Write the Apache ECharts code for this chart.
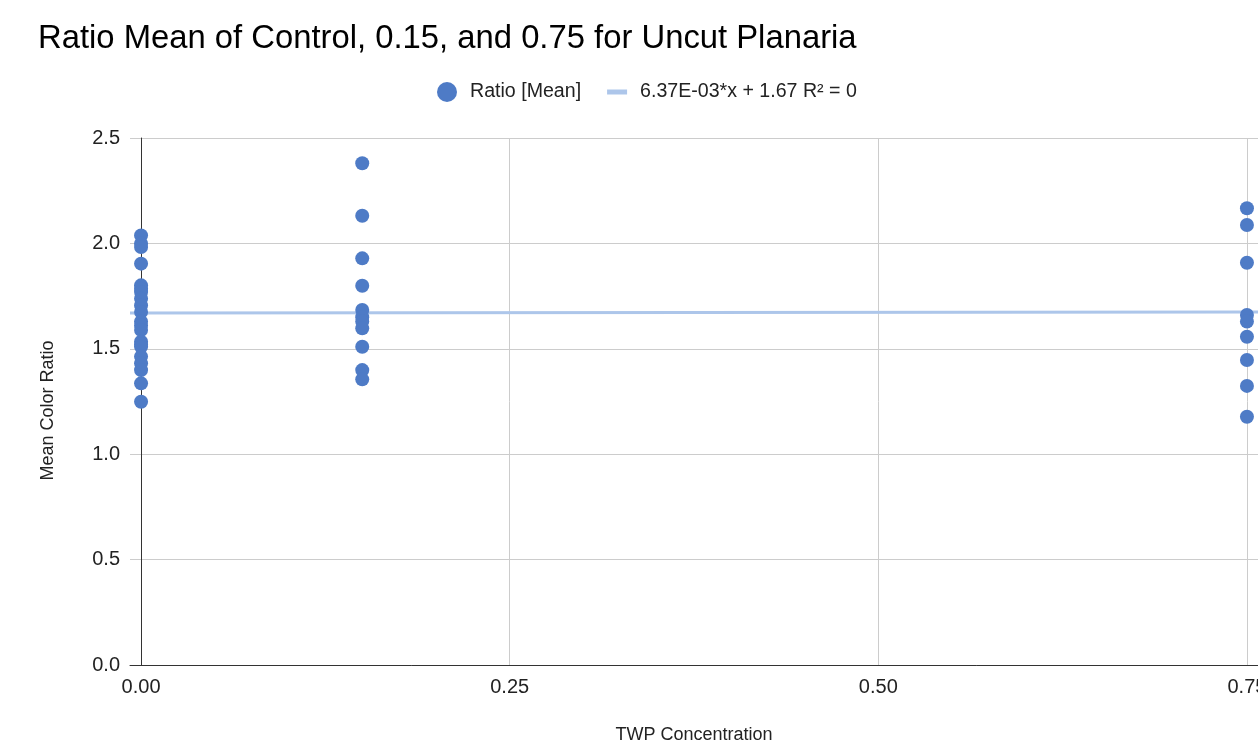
<!DOCTYPE html>
<html>
<head>
<meta charset="utf-8">
<script src="https://cdn.jsdelivr.net/npm/echarts@6/dist/echarts.min.js"></script>
<style>
html,body{margin:0;padding:0;background:#fff;overflow:hidden;}
#chart{width:1258px;height:747px;}
</style>
</head>
<body>
<div id="chart"></div>
<script>
// Data
const concentrations = [0, 0.15, 0.75];
const ratiosControl = [2.038, 1.999, 1.983, 1.904, 1.801, 1.785, 1.769, 1.738, 1.706, 1.675, 1.629, 1.610, 1.589, 1.534, 1.520, 1.510, 1.463, 1.431, 1.399, 1.336, 1.249];
const ratios015 = [2.380, 2.131, 1.929, 1.799, 1.684, 1.650, 1.629, 1.597, 1.510, 1.399, 1.355];
const ratios075 = [2.167, 2.087, 1.908, 1.660, 1.629, 1.557, 1.447, 1.324, 1.178];
const xTickValues = [0, 0.25, 0.5, 0.75];
const xRange = [-0.0075, 0.7575];
const trendSlope = 0.00637;
const trendIntercept = 1.67;
const seriesName = 'Ratio [Mean]';
const trendName = '6.37E-03*x + 1.67 R\u00b2 = 0';

const groups = [ratiosControl, ratios015, ratios075];
const scatterData = [];
groups.forEach((g, i) => g.forEach(v => scatterData.push([concentrations[i], v])));
const trendData = xRange.map(x => [x, trendSlope * x + trendIntercept]);

const FONT = '"Liberation Sans", Arial, Helvetica, sans-serif';
const chart = echarts.init(document.getElementById('chart'));
chart.setOption({
  animation: false,
  backgroundColor: '#fff',
  textStyle: { fontFamily: FONT },
  title: {
    text: 'Ratio Mean of Control, 0.15, and 0.75 for Uncut Planaria',
    left: 38, top: 22, padding: 0,
    textStyle: { fontFamily: FONT, fontSize: 32.8, fontWeight: 'normal', color: '#000' }
  },
  legend: {
    left: 437, top: 82, padding: 0,
    itemWidth: 20, itemHeight: 20, itemGap: 26,
    textStyle: { fontFamily: FONT, fontSize: 19.6, color: '#222', padding: [0, 0, 0, 8] },
    data: [
      { name: seriesName, icon: 'circle' },
      { name: trendName, icon: 'path://M0,0 L20,0 L20,5 L0,5 Z' }
    ]
  },
  grid: { left: 130, right: 0, top: 138, bottom: 82, containLabel: false, outerBoundsMode: 'none' },
  xAxis: {
    type: 'value',
    min: xRange[0], max: xRange[1],
    name: 'TWP Concentration',
    nameLocation: 'middle', nameGap: 61,
    nameTextStyle: { fontFamily: FONT, fontSize: 18, color: '#222' },
    axisLine: { show: true, onZero: false, lineStyle: { color: '#333', width: 1 } },
    axisTick: { show: false, customValues: xTickValues },
    axisLabel: { customValues: xTickValues, formatter: v => v.toFixed(2), margin: 12, fontFamily: FONT, fontSize: 20, color: '#222', hideOverlap: false },
    splitLine: { show: true, lineStyle: { color: '#ccc', width: 1 } }
  },
  yAxis: {
    type: 'value',
    min: 0, max: 2.5, interval: 0.5,
    name: 'Mean Color Ratio',
    nameLocation: 'middle', nameGap: 73,
    nameTextStyle: { fontFamily: FONT, fontSize: 18, color: '#222', padding: [0, 18, 0, 0] },
    axisLine: { show: true, onZero: true, lineStyle: { color: '#333', width: 1 } },
    axisTick: { show: false },
    axisLabel: { formatter: v => v.toFixed(1), margin: 10, fontFamily: FONT, fontSize: 20, color: '#222' },
    splitLine: { show: true, lineStyle: { color: '#ccc', width: 1 } }
  },
  series: [
    {
      name: trendName,
      type: 'line',
      data: trendData,
      showSymbol: false,
      symbol: 'none',
      lineStyle: { color: '#adc6ea', width: 3 },
      itemStyle: { color: '#adc6ea' },
      z: 2
    },
    {
      name: seriesName,
      type: 'scatter',
      data: scatterData,
      symbol: 'circle',
      symbolSize: 14,
      itemStyle: { color: '#4e7bc6', opacity: 1 },
      z: 3
    }
  ]
});
</script>
</body>
</html>
